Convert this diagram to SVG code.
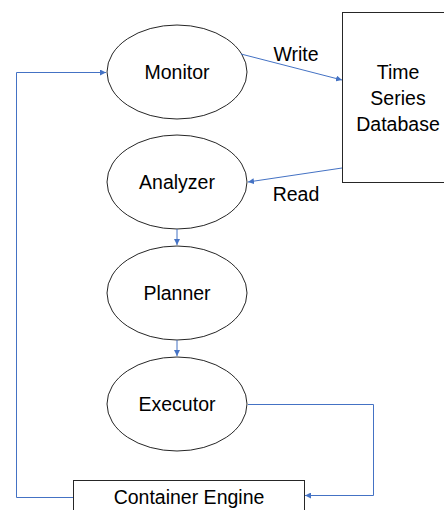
<svg xmlns="http://www.w3.org/2000/svg" width="444" height="510" viewBox="0 0 444 510">
<defs>
<marker id="arr" viewBox="0 0 10 10" refX="10" refY="5" markerWidth="6" markerHeight="6" markerUnits="userSpaceOnUse" orient="auto">
<path d="M0,0 L10,5 L0,10 z" fill="#4472C4"/>
</marker>
<style>
.node ellipse, .node rect { fill: #fff; stroke: #262626; stroke-width: 1; }
.lbl { font-family: "Liberation Sans", Arial, sans-serif; font-size: 19.5px; fill: #000; text-anchor: middle; dominant-baseline: central; }
.conn path { fill: none; stroke: #4472C4; stroke-width: 1; marker-end: url(#arr); }
</style>
</defs>
<rect width="444" height="510" fill="#fff"/>
<g id="monitor" class="node"><ellipse cx="177" cy="72" rx="70" ry="47"/><text class="lbl" x="177" y="72">Monitor</text></g>
<g id="analyzer" class="node"><ellipse cx="177" cy="182" rx="70" ry="47"/><text class="lbl" x="177" y="182">Analyzer</text></g>
<g id="planner" class="node"><ellipse cx="177" cy="293" rx="70" ry="47"/><text class="lbl" x="177" y="293">Planner</text></g>
<g id="executor" class="node"><ellipse cx="177" cy="404" rx="70" ry="47"/><text class="lbl" x="177" y="404">Executor</text></g>
<g id="tsdb" class="node"><rect x="342.5" y="12.5" width="110" height="170"/>
<text class="lbl" x="398" y="72">Time</text><text class="lbl" x="398" y="98">Series</text><text class="lbl" x="398" y="124">Database</text></g>
<g id="engine" class="node"><rect x="73.5" y="480.5" width="231" height="40"/><text class="lbl" x="189" y="497">Container Engine</text></g>
<g id="connectors" class="conn">
<path d="M241,54 L342,80"/>
<path d="M342,168 L248,182"/>
<path d="M177,229 L177,245"/>
<path d="M177,340 L177,356"/>
<path d="M248,404.5 H373.5 V495.5 H305"/>
<path d="M73,497.5 H16.5 V72.5 H106"/>
</g>
<text class="lbl" x="296" y="54">Write</text>
<text class="lbl" x="296" y="194">Read</text>
</svg>
